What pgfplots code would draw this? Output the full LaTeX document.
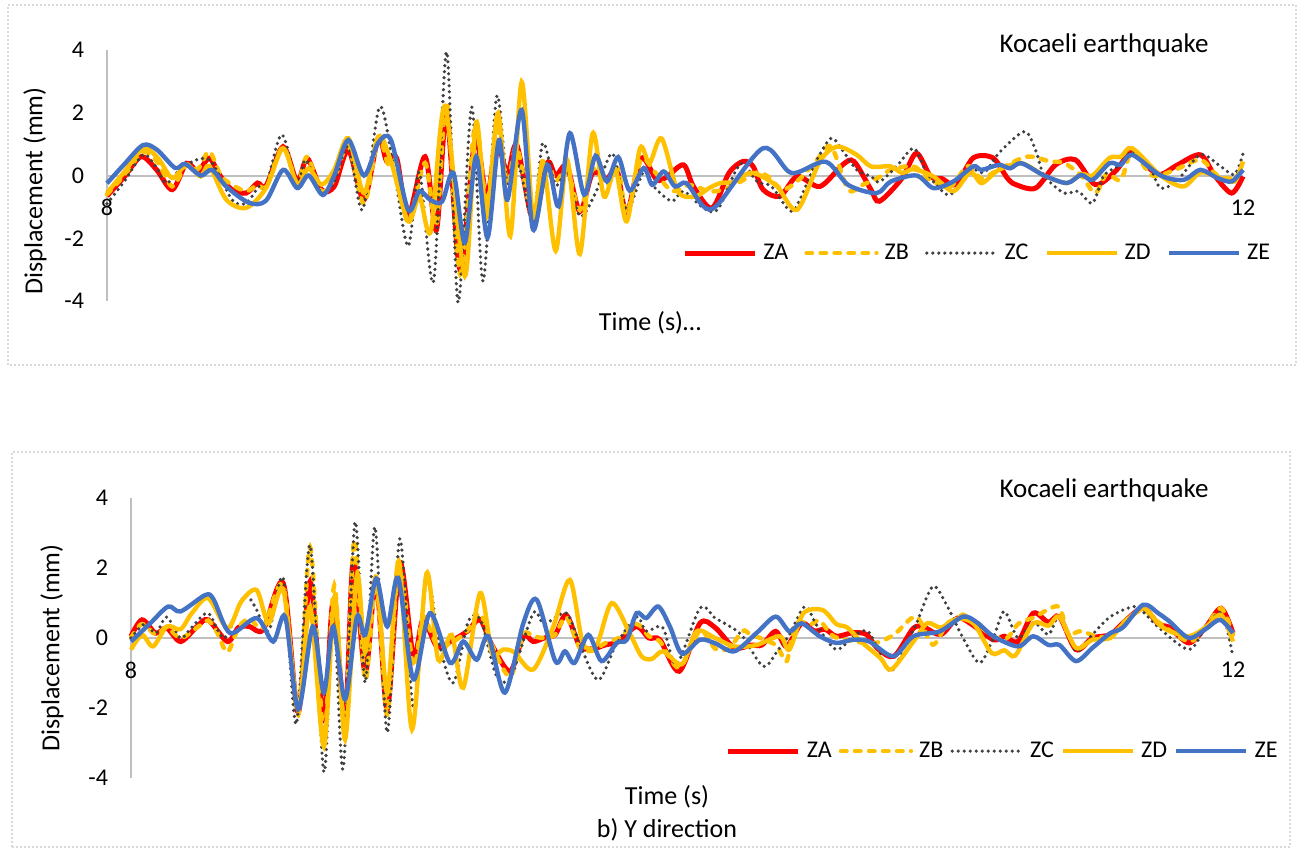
\documentclass[border=0pt]{standalone}
\usepackage{fontspec}
\setmainfont{Carlito}
\usepackage{pgfplots}
\pgfplotsset{compat=1.18}
\definecolor{cA}{HTML}{FF0000}
\definecolor{cB}{HTML}{FFC000}
\definecolor{cC}{HTML}{404040}
\definecolor{cE}{HTML}{4472C4}
\definecolor{axgray}{HTML}{BFBFBF}
\definecolor{framegray}{HTML}{D9D9D9}
\pgfplotsset{
 quakeaxis/.style={
  scale only axis, clip=false,
  xmin=8, xmax=12, ymin=-4, ymax=4,
  axis x line*=middle, axis y line*=left,
  hide obscured x ticks=false, hide obscured y ticks=false,
  axis line style={axgray, line width=1pt},
  xtick={8,12}, xticklabels={8,12},
  ytick={-4,-2,0,2,4}, yticklabels={-4,-2,0,2,4},
  major tick length=0pt,
  tick label style={font=\fontsize{12}{14}\selectfont, text=black},
  yticklabel style={xshift=-8pt},
  xticklabel style={yshift=-8.5pt},
  legend columns=5,
  legend image code/.code={\draw[##1] (0pt,0pt) -- (35pt,0pt);},
  legend style={draw=none, fill=none, font=\fontsize{12}{14}\selectfont, anchor=center, inner sep=0pt, nodes={inner sep=1pt},
    /tikz/every odd column/.append style={column sep=2pt}},
 },
 sA/.style={cA, line width=2.5pt, smooth, tension=0.5},
 sB/.style={cB, line width=2.2pt, smooth, tension=0.5, line cap=round, dash pattern=on 2.8pt off 4.2pt},
 sC/.style={cC, line width=1.8pt, smooth, tension=0.5, line cap=round, dash pattern=on 0pt off 3pt},
 sD/.style={cB, line width=2.2pt, smooth, tension=0.5},
 sE/.style={cE, line width=2.2pt, smooth, tension=0.5},
}
\begin{document}
\begin{tikzpicture}
\path[use as bounding box] (0,0) rectangle (648.5pt,424pt);
\draw[framegray, line width=1pt, dash pattern=on 1pt off 1pt] (4pt,241.5pt) rectangle (648pt,421.5pt);
\draw[framegray, line width=1pt, dash pattern=on 1pt off 1pt] (6pt,0.5pt) rectangle (645pt,198pt);

% ---------------- top panel ----------------
\begin{axis}[quakeaxis, at={(53.5pt,273.5pt)}, anchor=south west, width=568pt, height=125.5pt,
  legend style={at={(0.766,0.191)}, /tikz/every even column/.append style={column sep=7pt}}]
\addplot[sA] coordinates {
(8.0,-0.65) (8.06,-0.05) (8.12,0.6) (8.175,0.18) (8.23,-0.45) (8.28,0.39) (8.32,0.13) (8.36,0.55) (8.40,-0.03) (8.44,-0.45) (8.49,-0.56) (8.53,-0.24) (8.56,-0.33) (8.62,0.92) (8.67,-0.19) (8.705,0.55) (8.755,-0.45) (8.80,-0.35) (8.85,0.81) (8.905,-0.77) (8.955,1.19) (8.985,0.45) (9.02,0.55) (9.06,-1.3) (9.12,0.6) (9.16,-1.73) (9.196,1.98) (9.243,-3.0) (9.296,1.13) (9.337,-0.67) (9.372,1.03) (9.41,0.08) (9.443,0.97) (9.50,-1.4) (9.55,0.4) (9.58,0.0) (9.62,0.3) (9.665,-1.15) (9.71,0.08) (9.76,-0.1) (9.795,0.2) (9.83,-1.2) (9.88,0.55) (9.935,-0.13) (9.97,-0.05) (10.03,0.34) (10.065,-0.35) (10.13,-1.04) (10.19,0.08) (10.24,0.45) (10.275,0.29) (10.31,-0.45) (10.37,-0.66) (10.43,-0.03) (10.51,-0.35) (10.59,0.34) (10.63,0.45) (10.69,-0.45) (10.72,-0.82) (10.80,-0.08) (10.85,0.71) (10.90,-0.03) (10.94,-0.1) (10.99,-0.29) (11.05,0.56) (11.12,0.56) (11.17,-0.08) (11.20,-0.29) (11.27,-0.4) (11.34,0.34) (11.41,0.5) (11.48,-0.29) (11.55,0.13) (11.61,0.76) (11.67,0.23) (11.71,0.03) (11.77,0.34) (11.85,0.66) (11.90,0.0) (11.96,-0.56) (12.0,-0.03)};
\addlegendentry{ZA}
\addplot[sB] coordinates {
(8.0,-0.6) (8.06,0.0) (8.127,0.75) (8.18,0.4) (8.23,-0.35) (8.28,0.35) (8.32,0.2) (8.36,0.77) (8.40,0.0) (8.44,-0.29) (8.49,-0.5) (8.53,-0.3) (8.56,-0.35) (8.62,0.9) (8.67,-0.25) (8.705,0.6) (8.755,-0.5) (8.80,-0.1) (8.85,0.95) (8.905,-0.9) (8.955,1.2) (8.99,0.35) (9.02,0.4) (9.06,-1.5) (9.12,0.4) (9.16,-1.6) (9.196,2.35) (9.243,-3.15) (9.296,1.6) (9.337,-0.9) (9.372,1.5) (9.41,-0.2) (9.443,0.9) (9.50,-1.3) (9.55,0.3) (9.58,-0.2) (9.62,0.2) (9.665,-1.1) (9.71,0.2) (9.76,-0.3) (9.80,0.2) (9.83,-1.2) (9.88,0.5) (9.93,0.1) (9.99,-0.5) (10.05,-0.3) (10.12,-0.5) (10.17,-0.45) (10.23,-0.2) (10.29,0.1) (10.33,-0.05) (10.38,-0.45) (10.44,-0.1) (10.50,0.5) (10.55,0.92) (10.61,-0.45) (10.66,-0.3) (10.72,-0.05) (10.76,0.18) (10.84,0.29) (10.90,-0.15) (10.97,-0.35) (11.03,0.3) (11.08,-0.1) (11.14,0.2) (11.24,0.6) (11.32,0.45) (11.37,0.4) (11.43,0.0) (11.48,-0.56) (11.52,0.05) (11.57,-0.14) (11.61,0.76) (11.68,0.0) (11.76,0.18) (11.85,0.5) (11.91,0.0) (11.97,-0.08) (12.0,0.4)};
\addlegendentry{ZB}
\addplot[sC] coordinates {
(8.0,-0.9) (8.06,-0.2) (8.127,0.66) (8.17,0.3) (8.21,-0.24) (8.27,0.3) (8.36,0.5) (8.44,-0.77) (8.49,-0.88) (8.535,-0.35) (8.56,-0.35) (8.615,1.3) (8.67,-0.24) (8.70,0.5) (8.755,-0.56) (8.80,-0.2) (8.85,0.92) (8.90,-1.09) (8.96,2.19) (9.01,0.2) (9.06,-2.25) (9.10,0.1) (9.15,-3.37) (9.196,3.94) (9.236,-4.05) (9.284,2.19) (9.324,-3.37) (9.372,2.51) (9.41,-0.35) (9.45,0.3) (9.50,-1.5) (9.534,1.03) (9.58,-0.3) (9.62,0.1) (9.665,-1.3) (9.72,-0.56) (9.78,0.7) (9.83,-1.09) (9.89,0.13) (9.93,-0.4) (9.99,-0.82) (10.03,-0.5) (10.10,-1.04) (10.15,-1.09) (10.21,0.08) (10.24,0.39) (10.29,-0.2) (10.34,-0.35) (10.41,-1.14) (10.46,-0.35) (10.50,0.5) (10.55,1.19) (10.59,0.8) (10.64,0.18) (10.69,-0.03) (10.72,-0.2) (10.78,0.29) (10.84,0.87) (10.88,0.2) (10.92,-0.3) (10.97,-0.61) (11.04,0.18) (11.09,0.1) (11.14,0.71) (11.23,1.4) (11.27,0.8) (11.30,0.0) (11.37,-0.56) (11.42,-0.5) (11.47,-0.88) (11.51,0.0) (11.56,0.3) (11.61,0.76) (11.67,0.3) (11.71,-0.4) (11.77,-0.14) (11.85,0.66) (11.92,0.3) (11.97,0.03) (12.0,0.7)};
\addlegendentry{ZC}
\addplot[sD] coordinates {
(8.0,-0.55) (8.06,0.1) (8.127,0.87) (8.18,0.55) (8.23,-0.08) (8.28,0.34) (8.33,-0.03) (8.36,0.3) (8.42,-0.77) (8.49,-1.03) (8.56,-0.4) (8.62,0.87) (8.67,-0.29) (8.71,0.23) (8.755,-0.29) (8.80,0.18) (8.85,1.19) (8.905,-0.56) (8.955,1.24) (9.0,0.45) (9.06,-1.46) (9.10,-0.67) (9.14,-1.78) (9.19,2.2) (9.26,-3.2) (9.30,1.7) (9.337,-1.3) (9.377,1.99) (9.42,-1.93) (9.46,2.98) (9.50,-1.3) (9.535,0.45) (9.58,-2.4) (9.62,0.5) (9.665,-2.5) (9.71,1.34) (9.75,-0.67) (9.79,0.2) (9.83,-1.46) (9.877,0.87) (9.91,0.39) (9.953,1.18) (10.01,-0.5) (10.07,-0.67) (10.12,-0.4) (10.16,-0.24) (10.21,-0.2) (10.26,0.08) (10.30,0.0) (10.36,-0.35) (10.43,-1.09) (10.51,0.45) (10.57,0.92) (10.64,0.66) (10.69,0.29) (10.76,0.29) (10.80,0.08) (10.84,0.2) (10.91,-0.03) (10.98,-0.5) (11.04,0.1) (11.08,-0.24) (11.14,0.18) (11.22,0.39) (11.30,0.0) (11.38,-0.24) (11.43,0.05) (11.47,0.0) (11.53,0.56) (11.57,0.6) (11.61,0.87) (11.71,0.0) (11.79,-0.35) (11.85,0.1) (11.91,-0.05) (11.97,-0.19) (12.0,0.45)};
\addlegendentry{ZD}
\addplot[sE] coordinates {
(8.00,-0.25) (8.06,0.35) (8.127,0.97) (8.176,0.82) (8.24,0.24) (8.275,0.37) (8.33,0.0) (8.37,0.18) (8.42,-0.35) (8.50,-0.87) (8.56,-0.8) (8.62,0.18) (8.67,-0.4) (8.71,0.0) (8.76,-0.62) (8.80,0.0) (8.85,1.13) (8.905,0.0) (8.955,1.04) (9.0,1.13) (9.06,-1.09) (9.10,-0.5) (9.14,-0.79) (9.18,-0.83) (9.22,0.08) (9.26,-2.14) (9.30,0.6) (9.34,-1.98) (9.38,1.13) (9.41,-0.77) (9.46,2.09) (9.50,-1.72) (9.55,0.34) (9.59,-0.98) (9.63,1.35) (9.68,-0.61) (9.72,0.63) (9.76,-0.19) (9.80,0.59) (9.84,-0.48) (9.89,0.24) (9.92,-0.3) (9.96,0.13) (10.0,-0.35) (10.04,-0.24) (10.10,-0.98) (10.15,-0.93) (10.31,0.87) (10.41,0.08) (10.53,0.44) (10.61,-0.3) (10.71,-0.56) (10.76,-0.19) (10.85,0.0) (10.91,-0.4) (10.98,-0.19) (11.05,0.29) (11.08,0.18) (11.14,0.34) (11.18,0.23) (11.22,0.39) (11.30,0.0) (11.38,-0.24) (11.43,0.02) (11.47,-0.14) (11.53,0.39) (11.57,0.34) (11.61,0.66) (11.71,0.0) (11.79,-0.14) (11.85,0.18) (11.91,-0.08) (11.96,-0.19) (12.0,0.18)};
\addlegendentry{ZE}
\end{axis}
\node[font=\fontsize{13.5}{16}\selectfont] at (552pt,401.5pt) {Kocaeli earthquake};
\node[font=\fontsize{13}{15}\selectfont] at (325pt,262.5pt) {Time (s)…};
\node[font=\fontsize{13}{15}\selectfont, rotate=90] at (17.5pt,328.5pt) {Displacement (mm)};

% ---------------- bottom panel ----------------
\begin{axis}[quakeaxis, at={(65.5pt,35pt)}, anchor=south west, width=551pt, height=140pt,
  legend style={at={(0.791,0.096)}, /tikz/every even column/.append style={column sep=2.5pt}}]
\addplot[sA] coordinates {
(8.0,0.05) (8.04,0.52) (8.09,0.14) (8.13,0.28) (8.18,-0.1) (8.24,0.33) (8.28,0.52) (8.35,-0.1) (8.39,0.3) (8.43,0.33) (8.48,0.24) (8.553,1.56) (8.607,-2.13) (8.65,1.61) (8.70,-2.3) (8.734,1.04) (8.777,-2.3) (8.807,2.24) (8.85,-1.0) (8.89,1.66) (8.93,-2.04) (8.976,2.13) (9.025,-0.52) (9.06,0.52) (9.11,-0.24) (9.16,-0.1) (9.22,0.19) (9.267,0.52) (9.31,-0.2) (9.376,-0.95) (9.424,0.05) (9.46,-0.1) (9.50,0.0) (9.54,0.1) (9.58,0.66) (9.63,-0.24) (9.68,-0.3) (9.72,-0.2) (9.77,-0.1) (9.835,0.33) (9.88,0.0) (9.92,-0.05) (9.99,-0.95) (10.065,0.42) (10.12,0.3) (10.19,-0.28) (10.25,-0.2) (10.29,-0.2) (10.34,0.19) (10.38,-0.24) (10.434,0.42) (10.48,0.2) (10.52,0.25) (10.56,0.05) (10.62,0.15) (10.67,0.1) (10.71,-0.3) (10.77,-0.52) (10.84,0.28) (10.88,0.3) (10.94,0.1) (11.0,0.57) (11.05,0.4) (11.13,-0.05) (11.17,0.05) (11.22,-0.1) (11.275,0.71) (11.33,0.45) (11.37,0.61) (11.43,-0.33) (11.49,0.0) (11.555,0.1) (11.61,0.5) (11.674,0.85) (11.73,0.4) (11.77,0.3) (11.84,-0.14) (11.90,0.3) (11.957,0.85) (12.0,0.14)};
\addlegendentry{ZA}
\addplot[sB] coordinates {
(8.0,0.0) (8.04,0.4) (8.09,0.1) (8.13,0.3) (8.18,0.0) (8.24,0.3) (8.28,0.5) (8.31,0.2) (8.35,-0.4) (8.39,0.3) (8.43,0.55) (8.48,0.3) (8.553,1.5) (8.607,-2.2) (8.65,2.6) (8.70,-2.8) (8.738,1.5) (8.777,-2.7) (8.81,2.8) (8.85,-1.2) (8.89,1.6) (8.93,-2.2) (8.972,2.1) (9.025,-0.8) (9.06,0.6) (9.11,-0.2) (9.16,-0.15) (9.22,0.2) (9.267,0.7) (9.31,-0.2) (9.376,-1.1) (9.424,0.1) (9.46,0.05) (9.50,0.0) (9.54,0.1) (9.58,0.6) (9.63,-0.3) (9.68,-0.35) (9.72,-0.15) (9.77,0.0) (9.835,0.4) (9.88,0.05) (9.92,-0.1) (9.99,-0.85) (10.065,0.2) (10.12,-0.3) (10.17,-0.3) (10.22,0.2) (10.25,0.1) (10.34,-0.2) (10.38,-0.66) (10.41,0.4) (10.47,0.4) (10.50,0.5) (10.55,0.05) (10.63,-0.1) (10.70,-0.15) (10.77,0.1) (10.85,0.61) (10.91,-0.19) (10.96,0.4) (11.0,0.55) (11.03,0.65) (11.13,0.05) (11.18,0.0) (11.22,0.4) (11.28,0.6) (11.366,0.9) (11.40,0.14) (11.45,0.2) (11.50,0.05) (11.555,0.05) (11.61,0.5) (11.674,0.8) (11.73,0.45) (11.84,-0.1) (11.90,0.3) (11.957,0.85) (12.0,0.1)};
\addlegendentry{ZB}
\addplot[sC] coordinates {
(8.0,0.0) (8.05,0.4) (8.09,0.14) (8.13,0.6) (8.18,0.0) (8.22,0.3) (8.28,0.71) (8.34,0.0) (8.41,1.19) (8.45,0.9) (8.50,0.2) (8.553,1.7) (8.60,-2.46) (8.65,2.65) (8.70,-3.83) (8.734,0.9) (8.77,-3.74) (8.813,3.31) (8.85,-1.28) (8.886,3.17) (8.93,-2.7) (8.976,2.84) (9.025,-1.99) (9.073,1.66) (9.12,-0.2) (9.17,-1.28) (9.224,0.47) (9.27,0.5) (9.327,-1.09) (9.38,-1.09) (9.46,0.71) (9.50,0.4) (9.58,0.71) (9.63,-0.2) (9.696,-1.2) (9.76,-0.2) (9.835,0.6) (9.87,0.2) (9.93,0.3) (9.98,-0.75) (10.065,0.85) (10.12,0.57) (10.17,0.35) (10.22,0.05) (10.295,-0.81) (10.35,-0.33) (10.39,0.1) (10.446,0.9) (10.49,0.35) (10.56,-0.33) (10.63,0.1) (10.68,0.15) (10.755,-0.95) (10.81,-0.2) (10.85,0.4) (10.91,1.47) (10.96,0.95) (11.02,0.0) (11.08,-0.71) (11.13,0.0) (11.17,0.76) (11.22,0.0) (11.275,0.45) (11.33,0.1) (11.37,0.6) (11.43,-0.38) (11.49,0.1) (11.555,0.61) (11.64,0.9) (11.68,0.7) (11.73,0.3) (11.84,-0.33) (11.90,0.3) (11.96,0.71) (12.0,-0.55)};
\addlegendentry{ZC}
\addplot[sD] coordinates {
(8.0,-0.33) (8.04,0.09) (8.08,-0.24) (8.13,0.33) (8.18,0.25) (8.22,0.7) (8.28,1.14) (8.35,0.28) (8.40,1.04) (8.456,1.37) (8.50,0.43) (8.553,1.37) (8.607,-2.04) (8.65,0.9) (8.70,-3.1) (8.74,1.2) (8.777,-2.9) (8.82,1.8) (8.85,-0.4) (8.89,1.75) (8.93,-1.56) (8.972,2.2) (9.02,-2.61) (9.073,1.85) (9.115,-0.62) (9.164,0.09) (9.206,-1.42) (9.267,1.28) (9.31,-0.43) (9.35,-0.33) (9.39,-0.4) (9.46,-0.9) (9.533,0.33) (9.593,1.66) (9.64,-0.14) (9.69,-0.2) (9.745,1.0) (9.81,0.14) (9.853,-0.52) (9.89,-0.6) (9.932,-0.38) (10.0,-0.75) (10.053,0.19) (10.12,0.0) (10.19,-0.24) (10.27,-0.2) (10.355,0.05) (10.39,-0.33) (10.44,0.7) (10.51,0.8) (10.56,0.4) (10.60,0.3) (10.65,-0.1) (10.72,-0.57) (10.76,-0.9) (10.84,-0.1) (10.89,0.42) (10.94,0.3) (11.0,0.55) (11.06,0.4) (11.124,-0.43) (11.17,-0.35) (11.21,-0.5) (11.275,0.42) (11.33,0.35) (11.37,0.61) (11.43,-0.28) (11.49,-0.05) (11.555,0.0) (11.60,0.4) (11.674,0.85) (11.73,0.4) (11.77,0.2) (11.84,0.05) (11.90,0.3) (11.957,0.66) (12.0,-0.1)};
\addlegendentry{ZD}
\addplot[sE] coordinates {
(8.0,-0.1) (8.07,0.42) (8.135,0.9) (8.18,0.76) (8.27,1.23) (8.30,1.1) (8.36,0.14) (8.456,0.57) (8.516,-0.1) (8.56,0.6) (8.607,-2.04) (8.66,0.33) (8.70,-1.56) (8.734,0.33) (8.777,-1.75) (8.82,0.6) (8.85,0.09) (8.89,1.7) (8.93,0.33) (8.97,1.72) (9.025,-1.18) (9.085,0.71) (9.158,-0.71) (9.206,-0.1) (9.255,-0.62) (9.297,0.05) (9.357,-1.56) (9.424,0.42) (9.473,1.09) (9.54,-0.66) (9.575,-0.38) (9.61,-0.71) (9.66,0.09) (9.708,-0.66) (9.763,-0.14) (9.80,-0.05) (9.835,0.71) (9.87,0.57) (9.914,0.9) (9.956,0.33) (10.0,-0.45) (10.065,-0.05) (10.12,-0.15) (10.19,-0.38) (10.27,0.14) (10.34,0.61) (10.39,0.19) (10.434,0.42) (10.50,0.05) (10.56,-0.14) (10.62,-0.05) (10.68,-0.1) (10.767,-0.52) (10.84,0.05) (10.936,0.19) (11.02,0.61) (11.07,0.45) (11.13,0.05) (11.22,-0.24) (11.275,0.05) (11.33,-0.2) (11.37,-0.2) (11.43,-0.66) (11.49,-0.28) (11.555,0.14) (11.60,0.3) (11.674,0.95) (11.73,0.7) (11.77,0.47) (11.84,0.0) (11.90,0.25) (11.953,0.52) (12.0,0.14)};
\addlegendentry{ZE}
\end{axis}
\node[font=\fontsize{13.5}{16}\selectfont] at (552pt,179pt) {Kocaeli earthquake};
\node[font=\fontsize{13}{15}\selectfont] at (333.5pt,25.5pt) {Time (s)};
\node[font=\fontsize{13}{15}\selectfont] at (333.5pt,9pt) {b) Y direction};
\node[font=\fontsize{13}{15}\selectfont, rotate=90] at (26pt,100pt) {Displacement (mm)};
\end{tikzpicture}
\end{document}
